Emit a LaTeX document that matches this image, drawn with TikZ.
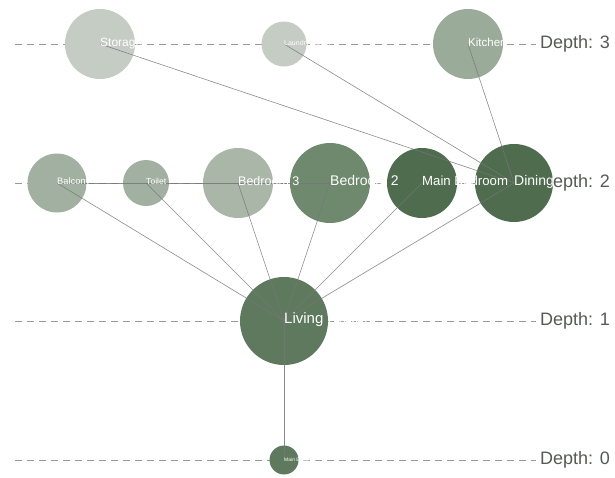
\documentclass[tikz,border=0pt]{standalone}
\usepackage{fontspec}
\setmainfont{Liberation Sans}
\definecolor{cLight}{HTML}{C4CCC3}
\definecolor{cBedThree}{HTML}{A9B6A8}
\definecolor{cPale}{HTML}{A2B0A1}
\definecolor{cKitchen}{HTML}{9AAB99}
\definecolor{cBedTwo}{HTML}{6E896E}
\definecolor{cLiving}{HTML}{5E795E}
\definecolor{cDark}{HTML}{4F6C4F}
\definecolor{cDepth}{HTML}{555A55}
\definecolor{cEdge}{HTML}{777777}
\begin{document}
\begin{tikzpicture}[x=1pt,y=-1pt,
  room/.style={circle,inner sep=0pt,draw=none},
  lbl/.style={anchor=base west,inner sep=0pt,text=white},
  edge/.style={draw=cEdge,line width=0.6pt,opacity=0.85},
  depthline/.style={draw=gray!80,dash pattern=on 7pt off 5pt,line width=0.8pt},
  depthlbl/.style={anchor=west,inner sep=0pt,text=cDepth,font=\fontsize{18}{18}\selectfont}]
\useasboundingbox (0,0) rectangle (615,477);
% depth guides
\foreach \d/\y in {3/44,2/183,1/321,0/460}{
  \coordinate (ls\d) at (15,\y);
  \coordinate (le\d) at (536,\y);
  \draw[depthline] (ls\d) -- (le\d);
  \node[depthlbl] (dl\d) at (540,\y) {Depth: \d};
}
% rooms
\node[room,fill=cLight,minimum size=70pt] (st) at (100,44) {};
\node[room,fill=cLight,minimum size=45pt] (la) at (284,44) {};
\node[room,fill=cKitchen,minimum size=70pt] (ki) at (468,44) {};
\node[room,fill=cPale,minimum size=59pt] (ba) at (57,183) {};
\node[room,fill=cPale,minimum size=46pt] (to) at (146,183) {};
\node[room,fill=cBedThree,minimum size=70pt] (bt) at (238,183) {};
\node[room,fill=cBedTwo,minimum size=80pt] (bw) at (330,183) {};
\node[room,fill=cDark,minimum size=70pt] (mb) at (422,183) {};
\node[room,fill=cDark,minimum size=78pt] (di) at (514,183) {};
\node[room,fill=cLiving,minimum size=88pt] (lr) at (284,321) {};
\node[room,fill=cLiving,minimum size=29pt] (me) at (284,460) {};
% connections
\draw[edge] (st.center) -- (di.center);
\draw[edge] (la.center) -- (di.center);
\draw[edge] (ki.center) -- (di.center);
\draw[edge] (ba.center) -- (bw.center);
\draw[edge] (ba.center) -- (lr.center);
\draw[edge] (to.center) -- (lr.center);
\draw[edge] (bt.center) -- (lr.center);
\draw[edge] (bw.center) -- (lr.center);
\draw[edge] (mb.center) -- (lr.center);
\draw[edge] (di.center) -- (lr.center);
\draw[edge] (lr.center) -- (me.center);
% labels (baseline a little below each centre)
\node[lbl,font=\fontsize{12}{12}\selectfont] (stl) at ([yshift=-2pt]st.center) {Storage};
\node[lbl,font=\fontsize{7}{7}\selectfont] (lal) at ([yshift=-1pt]la.center) {Laundry Room};
\node[lbl,font=\fontsize{11.5}{11.5}\selectfont] (kil) at ([yshift=-2pt]ki.center) {Kitchen};
\node[lbl,font=\fontsize{9.3}{9.3}\selectfont] (bal) at ([yshift=-1.5pt]ba.center) {Balcony};
\node[lbl,font=\fontsize{8.6}{8.6}\selectfont] (tol) at ([yshift=-1.5pt]to.center) {Toilet};
\node[lbl,font=\fontsize{12.5}{12.5}\selectfont] (btl) at ([yshift=-2pt]bt.center) {Bedroom 3};
\node[lbl,font=\fontsize{14}{14}\selectfont] (bwl) at ([yshift=-2pt]bw.center) {Bedroom 2};
\node[lbl,font=\fontsize{13.2}{13.2}\selectfont] (mbl) at ([yshift=-2pt]mb.center) {Main Bedroom};
\node[lbl,font=\fontsize{14}{14}\selectfont] (dil) at ([yshift=-2pt]di.center) {Dining};
\node[lbl,font=\fontsize{15}{15}\selectfont] (lrl) at ([yshift=-2pt]lr.center) {Living Room};
\node[lbl,font=\fontsize{5}{5}\selectfont] (mel) at ([yshift=-1pt]me.center) {Main Entrance};
\end{tikzpicture}
\end{document}
